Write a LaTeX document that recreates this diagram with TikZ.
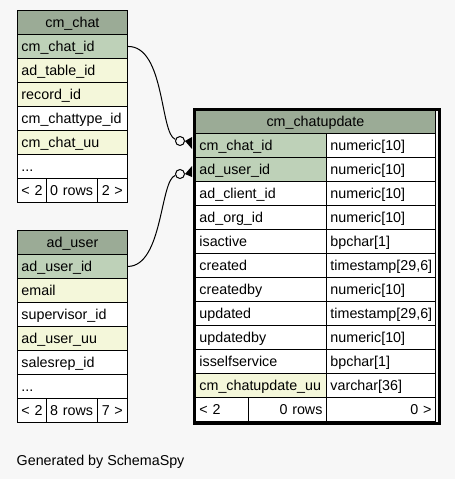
\documentclass[tikz,border=0pt]{standalone}
\usepackage{fontspec}
\setmainfont{Liberation Sans}
\definecolor{bg}{HTML}{F7F7F7}
\definecolor{hdr}{HTML}{9BAB96}
\definecolor{pk}{HTML}{BED1B8}
\definecolor{idx}{HTML}{F4F7DA}
\newcommand\fs{\fontsize{14.3pt}{16pt}\selectfont}
\newcommand\cellnode[8]{%
  \pgfmathsetmacro\tw{#4-8}%
  \node[cell, fill=#6, minimum height=#5pt, text width=\tw pt, align=#7] (#1) at (#2,#3) {\mbox{#8}};}
\tikzset{
  cell/.style={draw=black, line width=0.9pt, inner sep=0pt, inner xsep=4pt,
    text height=12pt, text depth=2pt, anchor=north west, font=\fs},
  optcirc/.style={circle, draw=black, fill=bg, line width=1pt, minimum size=9pt, inner sep=0pt},
  rel/.style={draw=black, line width=1pt}
}
\begin{document}
\begin{tikzpicture}[x=1pt,y=-1pt]
\fill[bg] (0,0) rectangle (455,479);
\useasboundingbox (0,0) rectangle (455,479);
% cm_chat
\cellnode{cc0}{17}{10}{110}{24}{hdr}{center}{cm\_chat}
\cellnode{cc1}{17}{34}{110}{24}{pk}{left}{cm\_chat\_id}
\cellnode{cc2}{17}{58}{110}{24}{idx}{left}{ad\_table\_id}
\cellnode{cc3}{17}{82}{110}{24}{idx}{left}{record\_id}
\cellnode{cc4}{17}{106}{110}{24}{white}{left}{cm\_chattype\_id}
\cellnode{cc5}{17}{130}{110}{24}{idx}{left}{cm\_chat\_uu}
\cellnode{cc6}{17}{154}{110}{24}{white}{left}{...}
\cellnode{ccf1}{17}{178}{28.7}{24}{white}{left}{< 2}
\cellnode{ccf2}{45.7}{178}{51.6}{24}{white}{left}{0 rows}
\cellnode{ccf3}{97.3}{178}{29.7}{24}{white}{left}{2 >}
% ad_user
\cellnode{au0}{17}{230}{110}{24}{hdr}{center}{ad\_user}
\cellnode{au1}{17}{254}{110}{24}{pk}{left}{ad\_user\_id}
\cellnode{au2}{17}{278}{110}{24}{idx}{left}{email}
\cellnode{au3}{17}{302}{110}{24}{white}{left}{supervisor\_id}
\cellnode{au4}{17}{326}{110}{24}{idx}{left}{ad\_user\_uu}
\cellnode{au5}{17}{350}{110}{24}{white}{left}{salesrep\_id}
\cellnode{au6}{17}{374}{110}{24}{white}{left}{...}
\cellnode{auf1}{17}{398}{28.7}{24}{white}{left}{< 2}
\cellnode{auf2}{45.7}{398}{51.6}{24}{white}{left}{8 rows}
\cellnode{auf3}{97.3}{398}{29.7}{24}{white}{left}{7 >}
% cm_chatupdate
\cellnode{cu0}{195}{110}{240}{23}{hdr}{center}{cm\_chatupdate}
\cellnode{cu1}{195}{133}{131}{24}{pk}{left}{cm\_chat\_id}
\cellnode{cut1}{326}{133}{109}{24}{white}{left}{numeric[10]}
\cellnode{cu2}{195}{157}{131}{24}{pk}{left}{ad\_user\_id}
\cellnode{cut2}{326}{157}{109}{24}{white}{left}{numeric[10]}
\cellnode{cu3}{195}{181}{131}{24}{white}{left}{ad\_client\_id}
\cellnode{cut3}{326}{181}{109}{24}{white}{left}{numeric[10]}
\cellnode{cu4}{195}{205}{131}{24}{white}{left}{ad\_org\_id}
\cellnode{cut4}{326}{205}{109}{24}{white}{left}{numeric[10]}
\cellnode{cu5}{195}{229}{131}{24}{white}{left}{isactive}
\cellnode{cut5}{326}{229}{109}{24}{white}{left}{bpchar[1]}
\cellnode{cu6}{195}{253}{131}{24}{white}{left}{created}
\cellnode{cut6}{326}{253}{109}{24}{white}{left}{timestamp[29,6]}
\cellnode{cu7}{195}{277}{131}{24}{white}{left}{createdby}
\cellnode{cut7}{326}{277}{109}{24}{white}{left}{numeric[10]}
\cellnode{cu8}{195}{301}{131}{24}{white}{left}{updated}
\cellnode{cut8}{326}{301}{109}{24}{white}{left}{timestamp[29,6]}
\cellnode{cu9}{195}{325}{131}{24}{white}{left}{updatedby}
\cellnode{cut9}{326}{325}{109}{24}{white}{left}{numeric[10]}
\cellnode{cu10}{195}{349}{131}{24}{white}{left}{isselfservice}
\cellnode{cut10}{326}{349}{109}{24}{white}{left}{bpchar[1]}
\cellnode{cu11}{195}{373}{131}{24}{idx}{left}{cm\_chatupdate\_uu}
\cellnode{cut11}{326}{373}{109}{24}{white}{left}{varchar[36]}
\cellnode{cuf1}{195}{397}{53}{24}{white}{left}{< 2}
\cellnode{cuf2}{248}{397}{78}{24}{white}{right}{0 rows}
\cellnode{cuf3}{326}{397}{109}{24}{white}{right}{0 >}
\node[draw=black, line width=3pt, minimum width=245pt, minimum height=314pt, inner sep=0pt, anchor=north west] (cuframe) at (192.5,108) {};
% relationships
\node[optcirc] (o1) at (180,141) {};
\node[optcirc] (o2) at (180,174) {};
\draw[rel] (cc1.east) .. controls (165,46) and (160,134) .. (o1);
\draw[rel] (au1.east) .. controls (163,266) and (160,180) .. (o2);
\fill[black] (o1.east) -- (192,137) -- (192,149) -- cycle;
\fill[black] (o2.east) -- (192,166) -- (192,177) -- cycle;
\node[anchor=base west, inner sep=0pt, font=\fs] (gen) at (16.5,465) {Generated by SchemaSpy};
\end{tikzpicture}
\end{document}
